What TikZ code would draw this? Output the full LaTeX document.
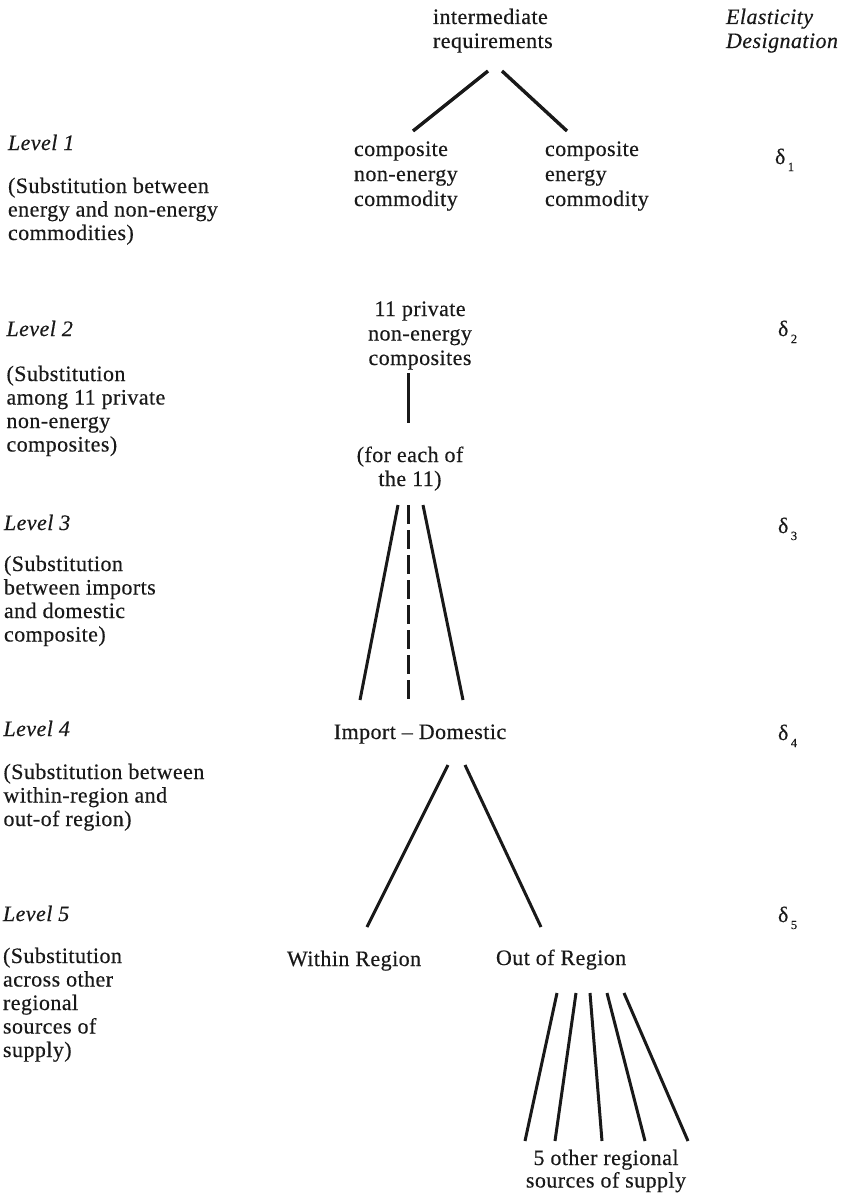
\documentclass[tikz,border=0pt]{standalone}
\usepackage{fontspec}
\setmainfont[LetterSpace=2,FakeBold=0.35]{Liberation Serif}
\definecolor{ink}{RGB}{25,25,25}
\newcommand{\mlines}[2]{\begin{tabular}[t]{@{}#1@{}}#2\end{tabular}}
\newcommand{\dsub}[1]{δ\hspace{2.5pt}\raisebox{-7pt}{\fontsize{12.5}{12.5}\selectfont #1}}
\begin{document}
\begin{tikzpicture}[x=1pt,y=-1pt,
  every node/.style={inner sep=0pt, outer sep=0pt, text=ink},
  txt/.style={font=\fontsize{22}{24}\selectfont},
  lefttxt/.style={font=\fontsize{22}{23.5}\selectfont, anchor=base west},
  lvl/.style={font=\fontsize{22}{24}\selectfont\itshape, anchor=base west},
  dlt/.style={font=\fontsize{22}{24}\selectfont, anchor=base west},
  branch/.style={draw=ink, line width=3pt},
  thick branch/.style={draw=ink, line width=3.4pt},
  dash branch/.style={draw=ink, line width=3pt, dash pattern=on 19pt off 6pt}]
\useasboundingbox (0,0) rectangle (842,1196);
\fill[white] (0,0) rectangle (842,1196);

% header
\node[txt, anchor=base west] (req) at (433,24) {\mlines{l}{intermediate\\requirements}};
\node[lvl] (ed) at (726,24) {\mlines{l}{Elasticity\\Designation}};

% level 1
\node[lvl] (l1) at (8,150) {Level 1};
\node[lefttxt] (s1) at (8,193) {\mlines{l}{(Substitution between\\energy and non-energy\\commodities)}};
\node[txt, anchor=base west, font=\fontsize{22}{25}\selectfont] (cne) at (354,156) {\mlines{l}{composite\\non-energy\\commodity}};
\node[txt, anchor=base west, font=\fontsize{22}{25}\selectfont] (ce) at (545,156) {\mlines{l}{composite\\energy\\commodity}};
\node[dlt] (d1) at (775,164) {\dsub{1}};

% level 2
\node[lvl] (l2) at (6.5,336) {Level 2};
\node[lefttxt] (s2) at (6.5,381) {\mlines{l}{(Substitution\\among 11 private\\non-energy\\composites)}};
\node[txt, anchor=base, font=\fontsize{22}{24.5}\selectfont] (pc) at (420,316) {\mlines{c}{11 private\\non-energy\\composites}};
\node[dlt] (d2) at (778,336) {\dsub{2}};
\node[txt, anchor=base] (fe) at (410,462) {\mlines{c}{(for each of\\the 11)}};

% level 3
\node[lvl] (l3) at (4,530) {Level 3};
\node[lefttxt] (s3) at (4,571) {\mlines{l}{(Substitution\\between imports\\and domestic\\composite)}};
\node[dlt] (d3) at (778,533) {\dsub{3}};

% level 4
\node[lvl] (l4) at (3.5,736) {Level 4};
\node[lefttxt] (s4) at (3.5,779) {\mlines{l}{(Substitution between\\within-region and\\out-of region)}};
\node[txt, anchor=base] (id) at (420,739) {Import \textendash\ Domestic};
\node[dlt] (d4) at (778,740) {\dsub{4}};

% level 5
\node[lvl] (l5) at (3,921) {Level 5};
\node[lefttxt] (s5) at (3,963) {\mlines{l}{(Substitution\\across other\\regional\\sources of\\supply)}};
\node[txt, anchor=base west] (wr) at (287,966) {Within Region};
\node[txt, anchor=base west] (orr) at (496,965) {Out of Region};
\node[dlt] (d5) at (778,922) {\dsub{5}};
\node[txt, anchor=base, font=\fontsize{22}{22.5}\selectfont] (os) at (606,1165) {\mlines{c}{5 other regional\\sources of supply}};

% connector end points
\coordinate (req-a) at (488,71);  \coordinate (cne-t) at (413,131);
\coordinate (req-b) at (502,71);  \coordinate (ce-t)  at (567,131);
\coordinate (pc-b) at (408,373);  \coordinate (fe-t)  at (408,423);
\coordinate (fe-a) at (398,505);  \coordinate (id-a)  at (360,700);
\coordinate (fe-b) at (408,505);  \coordinate (id-b)  at (408,700);
\coordinate (fe-c) at (423,505);  \coordinate (id-c)  at (463,700);
\coordinate (id-l) at (448,765);  \coordinate (wr-t)  at (367,927);
\coordinate (id-r) at (465,765);  \coordinate (or-t)  at (541,927);
\coordinate (or-1) at (557,993);  \coordinate (os-1)  at (525,1141);
\coordinate (or-2) at (576,993);  \coordinate (os-2)  at (555,1141);
\coordinate (or-3) at (590,993);  \coordinate (os-3)  at (602,1141);
\coordinate (or-4) at (607,993);  \coordinate (os-4)  at (645,1141);
\coordinate (or-5) at (624,993);  \coordinate (os-5)  at (688,1141);

\draw[thick branch] (req-a) -- (cne-t);
\draw[thick branch] (req-b) -- (ce-t);
\draw[branch] (pc-b) -- (fe-t);
\draw[branch] (fe-a) -- (id-a);
\draw[dash branch] (fe-b) -- (id-b);
\draw[branch] (fe-c) -- (id-c);
\draw[branch] (id-l) -- (wr-t);
\draw[branch] (id-r) -- (or-t);
\foreach \i in {1,...,5} \draw[branch] (or-\i) -- (os-\i);
\end{tikzpicture}
\end{document}
